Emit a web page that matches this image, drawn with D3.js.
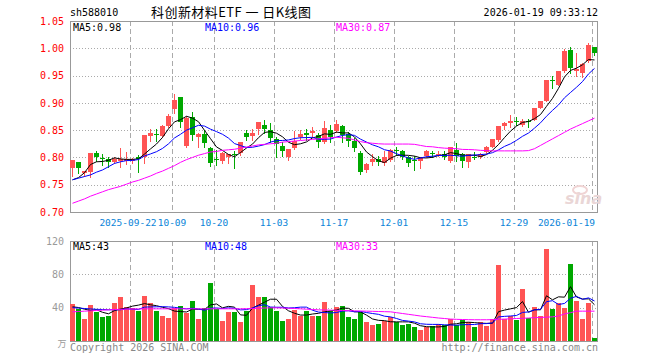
<!DOCTYPE html>
<html><head><meta charset="utf-8">
<script src="https://cdn.jsdelivr.net/npm/d3@7/dist/d3.min.js"></script>
<style>body{margin:0;background:#fff}svg{display:block}</style>
</head><body><svg id="c" width="660" height="360"></svg>
<script>
// ---------- data ----------
const symbol = "sh588010";
const title = "科创新材料ETF 一 日K线图";
const stamp = "2026-01-19 09:33:12";
const tickIndex = [10, 17, 24, 34, 44, 54, 64, 74, 87];
const tickLabels = ["2025-09-22", "10-09", "10-20", "11-03", "11-17", "12-01", "12-15", "12-29", "2026-01-19"];
const priceTicks = [0.70, 0.75, 0.80, 0.85, 0.90, 0.95, 1.00, 1.05];
const volTicks = [40, 80, 120];
const volUnit = "万";
const maLabels = ["MA5:0.98", "MA10:0.96", "MA30:0.87"];
const volMaLabels = ["MA5:43", "MA10:48", "MA30:33"];

const openP = [0.781,0.791,0.771,0.774,0.809,0.799,0.797,0.792,0.794,0.793,
0.793,0.800,0.800,0.840,0.843,0.839,0.857,0.889,0.910,0.821,
0.875,0.838,0.843,0.817,0.798,0.794,0.801,0.806,0.808,0.845,
0.840,0.852,0.860,0.851,0.833,0.821,0.801,0.817,0.838,0.845,
0.844,0.841,0.829,0.850,0.849,0.858,0.843,0.830,0.809,0.777,
0.791,0.798,0.789,0.795,0.814,0.812,0.801,0.795,0.793,0.802,
0.808,0.806,0.806,0.793,0.814,0.806,0.792,0.801,0.800,0.810,
0.820,0.832,0.858,0.864,0.867,0.860,0.867,0.869,0.891,0.904,
0.941,0.933,0.958,0.997,0.958,0.955,0.977,1.002];
const closeP = [0.795,0.781,0.775,0.808,0.801,0.798,0.792,0.797,0.798,0.797,
0.798,0.797,0.841,0.845,0.842,0.858,0.876,0.905,0.865,0.873,
0.841,0.843,0.826,0.789,0.797,0.809,0.806,0.805,0.828,0.838,
0.845,0.865,0.853,0.835,0.824,0.812,0.815,0.831,0.843,0.841,
0.849,0.829,0.854,0.838,0.862,0.841,0.830,0.817,0.774,0.788,
0.798,0.792,0.801,0.814,0.813,0.801,0.790,0.794,0.799,0.811,
0.807,0.807,0.800,0.819,0.802,0.793,0.806,0.800,0.807,0.820,
0.833,0.858,0.864,0.866,0.866,0.867,0.866,0.890,0.904,0.941,
0.940,0.958,0.995,0.963,0.962,0.971,1.006,0.991];
const highP = [0.796,0.791,0.776,0.809,0.811,0.806,0.800,0.800,0.818,0.810,
0.799,0.805,0.842,0.853,0.852,0.859,0.880,0.916,0.910,0.876,
0.883,0.844,0.850,0.820,0.814,0.810,0.807,0.811,0.829,0.851,
0.853,0.865,0.868,0.864,0.838,0.828,0.815,0.849,0.851,0.853,
0.856,0.845,0.867,0.860,0.868,0.860,0.847,0.835,0.811,0.789,
0.806,0.802,0.812,0.816,0.820,0.813,0.802,0.802,0.800,0.814,
0.812,0.811,0.811,0.820,0.826,0.808,0.806,0.810,0.808,0.821,
0.833,0.858,0.865,0.877,0.874,0.870,0.870,0.891,0.904,0.941,
0.950,0.959,0.998,1.003,0.992,0.973,1.010,1.003];
const lowP = [0.766,0.772,0.766,0.765,0.794,0.786,0.783,0.789,0.782,0.788,
0.789,0.774,0.789,0.830,0.830,0.837,0.855,0.881,0.856,0.820,
0.832,0.820,0.819,0.785,0.787,0.790,0.790,0.781,0.805,0.832,
0.832,0.843,0.844,0.828,0.801,0.802,0.795,0.815,0.833,0.832,
0.838,0.820,0.826,0.829,0.846,0.829,0.821,0.812,0.770,0.774,
0.787,0.787,0.786,0.794,0.804,0.798,0.784,0.777,0.780,0.800,
0.801,0.802,0.797,0.792,0.794,0.782,0.782,0.797,0.799,0.809,
0.819,0.831,0.852,0.855,0.860,0.858,0.856,0.868,0.890,0.903,
0.927,0.932,0.957,0.954,0.950,0.948,0.975,0.988];
const volume = [44.2,39,26.3,43,35,29,30,45.4,52.5,41.4,
40,36,54.5,45.4,36,30.6,27.5,40,42.6,33.4,
47.8,26,39.8,69.7,39,24.4,35,35,23.3,36.6,
67.7,52.5,52.5,41.4,36.6,24.4,26.3,37.8,30.6,36.6,
30.6,30.6,46.6,36.6,41.4,42.6,28.7,26.3,35,22.9,
19.3,20.5,24.4,28.3,22.3,19.3,20.5,16.5,13.1,16.5,
17.9,20.5,19.3,26.3,19.3,25.5,22.3,16.9,23.1,17.9,
26.3,91.8,26.3,30.6,25.5,62.6,27.5,41.4,30,110,
38.2,45.4,39.4,93,48,26.3,46,4];
// moving-average values before a full window exists
const ma5Head = [0.759, 0.763, 0.772, 0.787];
const ma10Head = [0.759, 0.762, 0.765, 0.768, 0.773, 0.777, 0.783, 0.789, 0.792];
const ma30 = [0.716,0.720,0.724,0.729,0.733,0.737,0.741,0.744,0.747,0.751,
0.755,0.758,0.762,0.766,0.771,0.775,0.780,0.785,0.791,0.796,
0.800,0.804,0.807,0.810,0.811,0.813,0.814,0.815,0.817,0.819,
0.821,0.823,0.824,0.825,0.826,0.828,0.829,0.830,0.831,0.832,
0.833,0.834,0.835,0.836,0.837,0.836,0.835,0.832,0.829,0.827,
0.826,0.825,0.8245,0.8245,0.8245,0.8245,0.8245,0.824,0.822,0.820,
0.8195,0.818,0.817,0.8165,0.816,0.8147,0.8145,0.814,0.813,0.8125,
0.812,0.812,0.812,0.812,0.812,0.812,0.8125,0.816,0.822,0.828,
0.834,0.840,0.846,0.852,0.857,0.862,0.867,0.872];
const volMa5Head = [41, 40.2, 38.2, 36.6];
const volMa10Head = [40, 39.5, 39, 38.5, 38, 37.8, 37.5, 37.5, 37.5];
const volMa30 = [35,35.4,35.8,36.2,36.6,37,37.4,37.8,38,38.2,
38.4,38.5,38.6,38.6,38.6,38.6,38.6,38.6,38.6,38.6,
38.6,38.6,38.6,38.6,38.6,38.6,38.6,38.6,38.6,38.8,
39,39.3,39.6,39.8,39.8,39.6,39.3,39,38.6,38.2,
37.8,37.4,37.2,37,36.8,36.6,36.4,36.2,36,35.8,
35.6,35.4,35.2,35,34,33,32,31,30,29.2,
28.4,27.6,27,26.3,26,25.8,25.6,25.5,25.5,25.5,
25.6,26,26.3,26.6,27,27.3,27.6,28,28.3,28.6,
29,30,32.5,34,35.8,35.8,35.8,35.8];

// ---------- drawing ----------
const RED = "#ff5454", GREEN = "#00a800", GRID = "#aaaaaa", FRAME = "#999999";
const n = closeP.length;
const L = 70, R = 598;
const x = d3.scaleLinear().domain([0, n]).range([L, R]);
const y = d3.scaleLinear().domain([0.70, 1.05]).range([212, 21]);
const vy = d3.scaleLinear().domain([0, 120]).range([341, 241]);
const cx = i => x(i) + 2.5;
const svg = d3.select("#c");
const mono = "'DejaVu Sans Mono', 'Liberation Mono', monospace";
const FS = 10;

function ma(arr, k, head) {
  return arr.map((v, i) => i < head.length ? head[i] : d3.mean(arr.slice(i - k + 1, i + 1)));
}
const ma5 = ma(closeP, 5, ma5Head), ma10 = ma(closeP, 10, ma10Head);
const vma5 = ma(volume, 5, volMa5Head), vma10 = ma(volume, 10, volMa10Head);

// header
svg.append("text").attr("x", 70).attr("y", 16).attr("font-family", mono).attr("font-size", FS).text(symbol);
svg.append("text").attr("x", 151).attr("y", 17).attr("font-family", "'Noto Sans CJK SC', sans-serif").attr("font-size", 13)
  .attr("textLength", 160).attr("lengthAdjust", "spacing").text(title);
svg.append("text").attr("x", 598).attr("y", 16).attr("text-anchor", "end").attr("font-family", mono).attr("font-size", FS).text(stamp);

// grid: horizontal dotted
const g = svg.append("g").attr("shape-rendering", "crispEdges");
g.selectAll(".hg").data(priceTicks.filter(t => t > 0.71 && t < 1.04)).join("line")
  .attr("x1", L).attr("x2", R).attr("y1", d => Math.round(y(d)) + 0.5).attr("y2", d => Math.round(y(d)) + 0.5)
  .attr("stroke", GRID).attr("stroke-dasharray", "1,2");
g.selectAll(".vhg").data(volTicks.filter(t => t < 120)).join("line")
  .attr("x1", L).attr("x2", R).attr("y1", d => Math.round(vy(d)) + 0.5).attr("y2", d => Math.round(vy(d)) + 0.5)
  .attr("stroke", GRID).attr("stroke-dasharray", "1,2");
// vertical dashed
for (const [y1, y2] of [[21, 212], [241, 341]]) {
  g.selectAll(null).data(tickIndex).join("line")
    .attr("x1", d => x(d) + 0.5).attr("x2", d => x(d) + 0.5).attr("y1", y1).attr("y2", y2)
    .attr("stroke", GRID).attr("stroke-dasharray", "5,3");
}
// frames
g.append("rect").attr("x", L + 0.5).attr("y", 21.5).attr("width", R - L - 1).attr("height", 191).attr("fill", "none").attr("stroke", FRAME);
g.append("rect").attr("x", L + 0.5).attr("y", 241.5).attr("width", R - L - 1).attr("height", 100).attr("fill", "none").attr("stroke", FRAME);

// watermark
svg.append("ellipse").attr("cx", 580).attr("cy", 190).attr("rx", 7).attr("ry", 4).attr("fill", "none").attr("stroke", "#f0d4d4").attr("stroke-width", 2);
svg.append("text").attr("x", 565).attr("y", 204).attr("font-family", "'DejaVu Sans', sans-serif").attr("font-style", "italic").attr("font-weight", "bold")
  .attr("font-size", 16).attr("fill", "#ead6d6").text("sina");

// price axis labels
const ya = svg.append("g").attr("transform", `translate(${L - 3},0)`)
  .call(d3.axisLeft(y).tickValues(priceTicks).tickFormat(d3.format(".2f")).tickSize(0));
ya.select(".domain").remove();
ya.selectAll("text").attr("fill", "#ff0000").attr("font-family", mono).attr("font-size", FS);

// volume axis labels
const va = svg.append("g").attr("transform", `translate(${L - 3},0)`)
  .call(d3.axisLeft(vy).tickValues(volTicks).tickSize(0));
va.select(".domain").remove();
va.selectAll("text").attr("fill", "#9a9a9a").attr("font-family", mono).attr("font-size", FS);
svg.append("text").attr("x", 62).attr("y", 347).attr("text-anchor", "middle").attr("fill", "#9a9a9a")
  .attr("font-family", "'Noto Sans CJK SC', sans-serif").attr("font-size", 9).text(volUnit);

// date labels
svg.append("g").selectAll("text").data(tickIndex).join("text")
  .attr("x", (d, k) => k === 0 ? x(tickIndex[1]) - 15 - 29 : Math.min(x(d), R - 3 - tickLabels[k].length * 2.85))
  .attr("y", 226).attr("text-anchor", "middle").attr("fill", "#0a84d8")
  .attr("font-family", mono).attr("font-size", 9.5).text((d, k) => tickLabels[k]);

// candles
const idx = d3.range(n);
const up = i => closeP[i] >= openP[i];
const cg = svg.append("g").attr("shape-rendering", "crispEdges");
cg.selectAll(".wick").data(idx).join("line")
  .attr("x1", cx).attr("x2", cx).attr("y1", i => Math.round(y(highP[i]))).attr("y2", i => Math.round(y(lowP[i])) + 1)
  .attr("stroke", i => up(i) ? RED : GREEN);
cg.selectAll(".body").data(idx).join("rect")
  .attr("x", i => x(i)).attr("width", 5)
  .attr("y", i => Math.round(y(Math.max(openP[i], closeP[i]))))
  .attr("height", i => Math.max(1, Math.round(y(Math.min(openP[i], closeP[i]))) - Math.round(y(Math.max(openP[i], closeP[i])))))
  .attr("fill", i => up(i) ? RED : GREEN);

// volume bars
cg.selectAll(".vol").data(idx).join("rect")
  .attr("x", i => x(i)).attr("width", 5)
  .attr("y", i => Math.round(vy(volume[i]))).attr("height", i => 341 - Math.round(vy(volume[i])))
  .attr("fill", i => up(i) ? RED : GREEN);

// MA lines
const lineP = d3.line().x((d, i) => cx(i)).y(d => y(d));
const lineV = d3.line().x((d, i) => cx(i)).y(d => vy(d));
const cols = ["#000000", "#0000ff", "#ff00ff"];
[ma5, ma10, ma30].forEach((s, k) => svg.append("path").attr("d", lineP(s)).attr("fill", "none").attr("stroke", cols[k]).attr("stroke-width", 1));
[vma5, vma10, volMa30].forEach((s, k) => svg.append("path").attr("d", lineV(s)).attr("fill", "none").attr("stroke", cols[k]).attr("stroke-width", 1));

// legends
const legX = [73, 205, 336];
svg.append("g").selectAll("text").data(maLabels).join("text")
  .attr("x", (d, k) => legX[k]).attr("y", 31).attr("fill", (d, k) => cols[k])
  .attr("font-family", mono).attr("font-size", FS).text(d => d);
svg.append("g").selectAll("text").data(volMaLabels).join("text")
  .attr("x", (d, k) => legX[k]).attr("y", 250).attr("fill", (d, k) => cols[k])
  .attr("font-family", mono).attr("font-size", FS).text(d => d);

// footer
svg.append("text").attr("x", 70).attr("y", 351).attr("fill", "#888").attr("font-family", mono).attr("font-size", FS).text("Copyright 2026 SINA.COM");
svg.append("text").attr("x", 598).attr("y", 351).attr("text-anchor", "end").attr("fill", "#888").attr("font-family", mono).attr("font-size", FS).text("http://finance.sina.com.cn");
</script></body></html>
